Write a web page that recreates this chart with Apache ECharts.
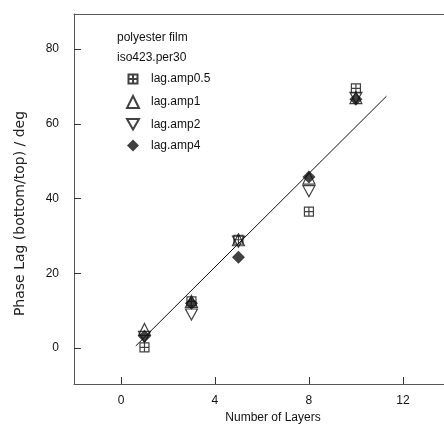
<!DOCTYPE html>
<html>
<head>
<meta charset="utf-8">
<script src="https://cdn.jsdelivr.net/npm/echarts@6/dist/echarts.min.js"></script>
<style>html,body{margin:0;padding:0;background:#fff}#c{width:444px;height:430px}</style>
</head>
<body>
<div id="c"></div>
<script>
var layers = [1, 3, 5, 8, 10];
var amp05 = [0.2, 12.5, 29, 36.5, 69.5];
var amp1 = [5, 12.5, 29, 45.5, 67];
var amp2 = [3, 9, 28.5, 42, 67];
var amp4 = [3.2, 12, 24.3, 45.8, 66.6];
var fitLine = [[0.63, 0.6], [11.3, 67.4]];
var xTicks = [0, 4, 8, 12];
var yTicks = [0, 20, 40, 60, 80];
var seriesNames = ['lag.amp0.5', 'lag.amp1', 'lag.amp2', 'lag.amp4'];

function pts(vals) { return layers.map(function (x, i) { return [x, vals[i]]; }); }

var FONT = 'Liberation Sans, Arial, sans-serif';
var sqPath = 'path://M0,0H10V10H0ZM5,0V10M0,5H10';
var sqLegend = 'path://M0,0M12,12M1.5,1.5H10.5V10.5H1.5ZM6,1.5V10.5M1.5,6H10.5';
var downTri = 'path://M0,0L10,0L5,8.66Z';
var open = { color: 'rgba(0,0,0,0)', borderColor: '#111', borderWidth: 1.2 };

var chart = echarts.init(document.getElementById('c'), null, { renderer: 'canvas' });
chart.setOption({
  animation: false,
  backgroundColor: '#fff',
  title: {
    text: 'polyester film\niso423.per30',
    left: 112, top: 23,
    textStyle: { fontFamily: FONT, fontSize: 12, fontWeight: 'normal', color: '#111', lineHeight: 20 }
  },
  legend: {
    orient: 'vertical', left: 121, top: 67,
    itemWidth: 12, itemHeight: 12, itemGap: 9,
    textStyle: { fontFamily: FONT, fontSize: 12, color: '#111', padding: [0, 0, 0, 7] },
    data: [
      { name: seriesNames[0], icon: sqLegend },
      { name: seriesNames[1] },
      { name: seriesNames[2] },
      { name: seriesNames[3] }
    ]
  },
  grid: { left: 74, right: 0, top: 14, bottom: 46, show: false },
  xAxis: [{
    type: 'value', min: -2, max: 13.75,
    axisLine: { show: true, onZero: false, lineStyle: { color: '#555' } },
    axisTick: { show: true, inside: true, length: 7, customValues: xTicks, lineStyle: { color: '#333' } },
    axisLabel: { customValues: xTicks, margin: 11, fontFamily: FONT, fontSize: 12, color: '#111' },
    splitLine: { show: false },
    name: 'Number of Layers', nameLocation: 'middle', nameGap: 27,
    nameTextStyle: { fontFamily: FONT, fontSize: 12, color: '#111', padding: [0, 0, 0, 28] }
  }, {
    type: 'value', position: 'top', min: -2, max: 13.75,
    axisLine: { show: true, onZero: false, lineStyle: { color: '#555' } },
    axisTick: { show: false }, axisLabel: { show: false }, splitLine: { show: false }
  }],
  yAxis: {
    type: 'value', min: -9.6, max: 89.4,
    axisLine: { show: true, onZero: false, lineStyle: { color: '#555' } },
    axisTick: { show: true, inside: true, length: 7, customValues: yTicks, lineStyle: { color: '#333' } },
    axisLabel: { customValues: yTicks, margin: 15, fontFamily: FONT, fontSize: 12, color: '#111' },
    splitLine: { show: false },
    name: 'Phase Lag (bottom/top) / deg', nameLocation: 'middle', nameGap: 47,
    nameTextStyle: { fontFamily: 'DejaVu Sans, sans-serif', fontSize: 14, color: '#222', padding: [0, 29, 0, 0] }
  },
  series: [
    { type: 'line', data: fitLine, symbol: 'none', lineStyle: { color: '#111', width: 1 }, silent: true, z: 1 },
    { name: seriesNames[0], type: 'scatter', data: pts(amp05), symbol: sqPath, symbolSize: 9, itemStyle: open, z: 2 },
    { name: seriesNames[1], type: 'scatter', data: pts(amp1), symbol: 'triangle', symbolSize: 12, itemStyle: open, z: 3 },
    { name: seriesNames[2], type: 'scatter', data: pts(amp2), symbol: downTri, symbolSize: [12, 11], itemStyle: open, z: 4 },
    { name: seriesNames[3], type: 'scatter', data: pts(amp4), symbol: 'diamond', symbolSize: 13, itemStyle: { color: '#111' }, z: 5 }
  ]
});
</script>
</body>
</html>
